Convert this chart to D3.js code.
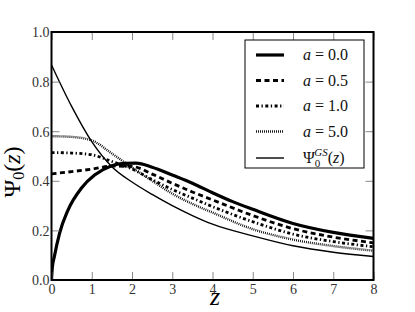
<!DOCTYPE html>
<html><head><meta charset="utf-8">
<script src="https://cdn.jsdelivr.net/npm/d3@7"></script>
<style>body{margin:0;background:#fff}svg{display:block}</style>
</head><body><svg id="c" width="415" height="312"></svg>
<script>
const zGrid = [0, 0.5, 1, 1.5, 2, 2.5, 3, 3.5, 4, 5, 6, 7, 8];
const psiGS = [0.867, 0.70, 0.558, 0.457, 0.395, 0.345, 0.30, 0.26, 0.225, 0.178, 0.138, 0.112, 0.095];
const psiA5 = [0.58, 0.577, 0.563, 0.51, 0.453, 0.40, 0.348, 0.307, 0.272, 0.205, 0.163, 0.137, 0.118];
const psiA1 = [0.514, 0.512, 0.505, 0.478, 0.448, 0.405, 0.365, 0.33, 0.296, 0.235, 0.185, 0.155, 0.134];
const psiA05 = [0.428, 0.437, 0.447, 0.459, 0.458, 0.427, 0.39, 0.355, 0.323, 0.26, 0.207, 0.173, 0.150];
const zA0 = [0, 0.02, 0.07, 0.2, 0.41, 0.74, 1.07, 1.48, 1.82, 2.1, 2.5, 3, 3.5, 4, 4.5, 5, 6, 7, 8];
const psiA0 = [0, 0.05, 0.094, 0.188, 0.282, 0.37, 0.423, 0.46, 0.47, 0.471, 0.455, 0.423, 0.39, 0.352, 0.316, 0.285, 0.228, 0.192, 0.168];
const xTicks = [0, 1, 2, 3, 4, 5, 6, 7, 8];
const yTicks = [0.0, 0.2, 0.4, 0.6, 0.8, 1.0];
const legendLabels = ["a = 0.0", "a = 0.5", "a = 1.0", "a = 5.0", "GS"];

const svg = d3.select("#c");
const L = 51.5, R = 373.5, T = 32, B = 280;
const x = d3.scaleLinear().domain([0, 8]).range([L, R]);
const y = d3.scaleLinear().domain([0, 1]).range([B, T]);
const font = "'Liberation Serif', 'Times New Roman', Times, Tinos, 'DejaVu Serif', serif";

const styles = [
  {w: 3.2, dash: null},
  {w: 2.8, dash: "5,3.5"},
  {w: 2.8, dash: "3,2.5,1.3,2.5"},
  {w: 2.4, dash: "0.9,1.1"},
  {w: 1.4, dash: null}
];
const seriesList = [
  {z: zA0, v: psiA0, s: styles[0]},
  {z: zGrid, v: psiA05, s: styles[1]},
  {z: zGrid, v: psiA1, s: styles[2]},
  {z: zGrid, v: psiA5, s: styles[3]},
  {z: zGrid, v: psiGS, s: styles[4]}
];

const g = svg.append("g");
g.append("clipPath").attr("id", "clip").append("rect")
  .attr("x", L).attr("y", T).attr("width", R - L).attr("height", B - T);

const line = d3.line().x(d => x(d[0])).y(d => y(d[1])).curve(d3.curveMonotoneX);
seriesList.forEach(sr => {
  g.append("path").attr("clip-path", "url(#clip)")
    .datum(sr.z.map((z, i) => [z, sr.v[i]]))
    .attr("d", line).attr("fill", "none").attr("stroke", "#000")
    .attr("stroke-width", sr.s.w).attr("stroke-dasharray", sr.s.dash);
});

const tl = 8;
const axB = d3.axisBottom(x).tickValues(xTicks).tickSize(-tl).tickPadding(3).tickFormat(d3.format("d"));
const axT = d3.axisTop(x).tickValues(xTicks).tickSize(-tl).tickFormat("");
const axL = d3.axisLeft(y).tickValues(yTicks).tickSize(-tl).tickPadding(2).tickFormat(d3.format(".1f"));
const axR = d3.axisRight(y).tickValues(yTicks).tickSize(-tl).tickFormat("");
function style(sel) {
  sel.attr("font-family", null).attr("font-size", null);
  sel.select(".domain").remove();
  sel.selectAll(".tick line").attr("stroke", "#888").attr("stroke-width", 1);
  sel.selectAll(".tick text").attr("fill", "#333").style("font-family", font).style("font-size", "14px");
}
svg.append("g").attr("transform", `translate(0,${B})`).call(axB).call(style)
  .selectAll(".tick text").attr("dy", "0.8em");
svg.append("g").attr("transform", `translate(0,${T})`).call(axT).call(style);
svg.append("g").attr("transform", `translate(${L},0)`).call(axL).call(style)
  .selectAll(".tick text").attr("dy", "0.35em");
svg.append("g").attr("transform", `translate(${R},0)`).call(axR).call(style);

svg.append("rect").attr("x", L).attr("y", T).attr("width", R - L).attr("height", B - T)
  .attr("fill", "none").attr("stroke", "#000").attr("stroke-width", 2);

svg.append("text").attr("x", 215).attr("y", 305).attr("text-anchor", "middle")
  .style("font-family", font).style("font-style", "italic").style("font-size", "26px").text("z");
const yl = svg.append("text").attr("transform", "translate(20,172) rotate(-90)")
  .attr("text-anchor", "middle").style("font-family", font).style("font-size", "24px");
yl.append("tspan").text("Ψ");
yl.append("tspan").attr("dy", 4).style("font-size", "16px").text("0");
yl.append("tspan").attr("dy", -4).text("(");
yl.append("tspan").style("font-style", "italic").text("z");
yl.append("tspan").text(")");

const lg = svg.append("g");
lg.append("rect").attr("x", 245).attr("y", 40).attr("width", 119).attr("height", 128)
  .attr("fill", "#fff").attr("stroke", "#000").attr("stroke-width", 1);
const rowsY = [55, 80.5, 106, 131.5, 158];
legendLabels.forEach((lab, i) => {
  const yy = rowsY[i];
  lg.append("line").attr("x1", 256).attr("x2", 284).attr("y1", yy).attr("y2", yy)
    .attr("stroke", "#000").attr("stroke-width", styles[i].w).attr("stroke-dasharray", styles[i].dash);
  const t = lg.append("text").attr("x", 303).attr("y", yy + 5)
    .style("font-family", font).style("font-size", "16px").attr("fill", "#111");
  if (i < 4) {
    const parts = lab.split(" = ");
    t.append("tspan").style("font-style", "italic").text(parts[0]);
    t.append("tspan").text(" = " + parts[1]);
  } else {
    t.append("tspan").text("Ψ");
    t.append("tspan").attr("dy", 4).style("font-size", "11px").text("0");
    t.append("tspan").attr("dx", -6).attr("dy", -11).style("font-size", "11px").style("font-style", "italic").text("GS");
    t.append("tspan").attr("dy", 7).text("(");
    t.append("tspan").style("font-style", "italic").text("z");
    t.append("tspan").text(")");
  }
});
</script></body></html>
